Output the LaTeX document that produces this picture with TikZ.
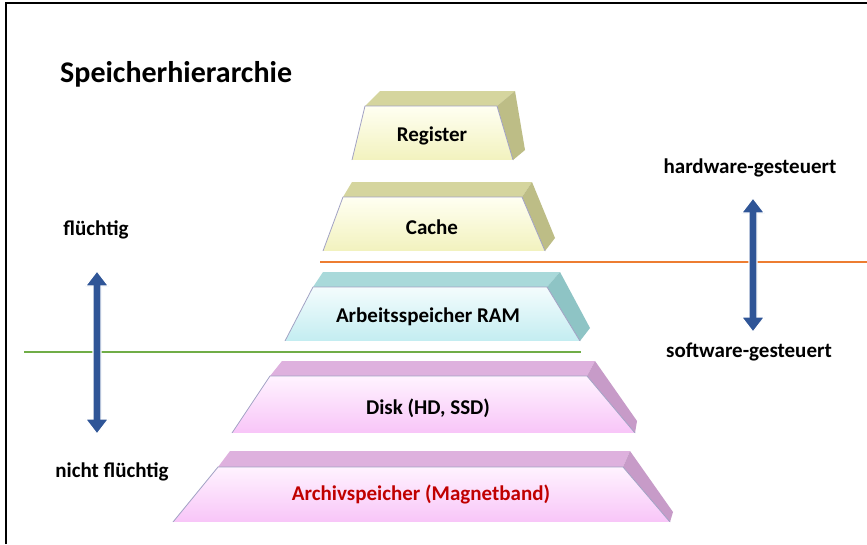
\documentclass[tikz,border=0pt]{standalone}
\usepackage{fontspec}
\setmainfont{Carlito}
\usetikzlibrary{arrows.meta,shadings}
\definecolor{yfrontT}{HTML}{FFFFF2}
\definecolor{yfrontB}{HTML}{F2F2BE}
\definecolor{ytop}{HTML}{D5D59E}
\definecolor{yside}{HTML}{BDBD86}
\definecolor{cfrontT}{HTML}{F4FCFD}
\definecolor{cfrontB}{HTML}{C3EDF1}
\definecolor{ctop}{HTML}{A9D9DA}
\definecolor{cside}{HTML}{8EC4C5}
\definecolor{pfrontT}{HTML}{FFF3FF}
\definecolor{pfrontB}{HTML}{F8C5F8}
\definecolor{ptop}{HTML}{DEB1DE}
\definecolor{pside}{HTML}{C79BC8}
\definecolor{edgec}{HTML}{A2A2C4}
\definecolor{arrblue}{HTML}{2F5597}
\definecolor{linor}{HTML}{ED7D31}
\definecolor{lingr}{HTML}{70AD47}
\definecolor{darkred}{HTML}{C00000}
\tikzset{
  lbl/.style={font=\fontsize{21}{25}\selectfont\bfseries, inner sep=0pt},
  ttl/.style={font=\fontsize{30}{36}\selectfont\bfseries, inner sep=0pt, anchor=west},
  edge/.style={draw=edgec, line width=0.8pt},
  sep/.style={line width=2.4pt},
  bigarrow/.style={draw=white, line width=1.2pt, fill=arrblue},
}
% #1 fTL #2 fTR #3 fBR #4 fBL #5 bTL #6 bTR #7 sBB #8 prefix (y,c,p)
\newcommand\pblock[8]{%
  \fill[#8top] #1 -- #5 -- #6 -- #2 -- cycle;
  \fill[#8side] #2 -- #6 -- #7 -- #3 -- cycle;
  \shade[top color=#8frontT, bottom color=#8frontB] #1 -- #2 -- #3 -- #4 -- cycle;
  \draw[edge, line join=round] #4 -- #1 -- #2 -- #3;
  \draw[draw=white, line width=0.8pt] #4 -- #3;
}
% vertical double arrow: #1 x, #2 top tip y, #3 bottom tip y
\newcommand\dblarrow[3]{%
  \filldraw[bigarrow] (#1,#2) -- (#1+11.5,#2+15) -- (#1+4,#2+15) -- (#1+4,#3-15) -- (#1+11.5,#3-15)
     -- (#1,#3) -- (#1-11.5,#3-15) -- (#1-4,#3-15) -- (#1-4,#2+15) -- (#1-11.5,#2+15) -- cycle;
}
\begin{document}
\begin{tikzpicture}[x=1pt,y=-1pt]
\useasboundingbox (0,0) rectangle (867,544);
\fill[white] (0,0) rectangle (867,544);
% frame
\draw[line width=2pt] (6,544) -- (6,3) -- (867,3);

% blocks
\pblock{(365,106)}{(497,106)}{(513,160)}{(352,160)}{(380,91)}{(515,91)}{(525,150)}{y}
\pblock{(343,197)}{(522,197)}{(545,251)}{(323,251)}{(352,182)}{(532,182)}{(555,238)}{y}
\pblock{(313,287)}{(547,287)}{(580,341)}{(285,341)}{(323,272)}{(560,272)}{(590,328)}{c}
\pblock{(270,376)}{(587,376)}{(635,433)}{(232,433)}{(282,361)}{(595,361)}{(637,421)}{p}
\pblock{(218,467)}{(623,467)}{(670,522)}{(173,522)}{(230,451)}{(630,451)}{(673,512)}{p}

\node[lbl] (reg) at (432,136) {Register};
\node[lbl] (cache) at (432,227) {Cache};
\node[lbl] (ram) at (428,317) {Arbeitsspeicher RAM};
\node[lbl] (disk) at (428,408) {Disk (HD, SSD)};
\node[lbl, text=darkred] (arch) at (421,494) {Archivspeicher (Magnetband)};

% separator lines
\coordinate (orL) at (320,262);
\coordinate (orR) at (867,262);
\coordinate (grL) at (24,352);
\coordinate (grR) at (581,352);
\draw[sep, draw=linor] (orL) -- (orR);
\draw[sep, draw=lingr] (grL) -- (grR);

% arrows
\dblarrow{97}{271}{434}
\dblarrow{753}{198}{332}

% labels
\node[ttl] (title) at (60,74) {Speicherhierarchie};
\node[lbl] (fl) at (96,230) {flüchtig};
\node[lbl] (nfl) at (112,472) {nicht flüchtig};
\node[lbl] (hw) at (750,168) {hardware-gesteuert};
\node[lbl] (sw) at (749,352) {software-gesteuert};
\end{tikzpicture}
\end{document}
